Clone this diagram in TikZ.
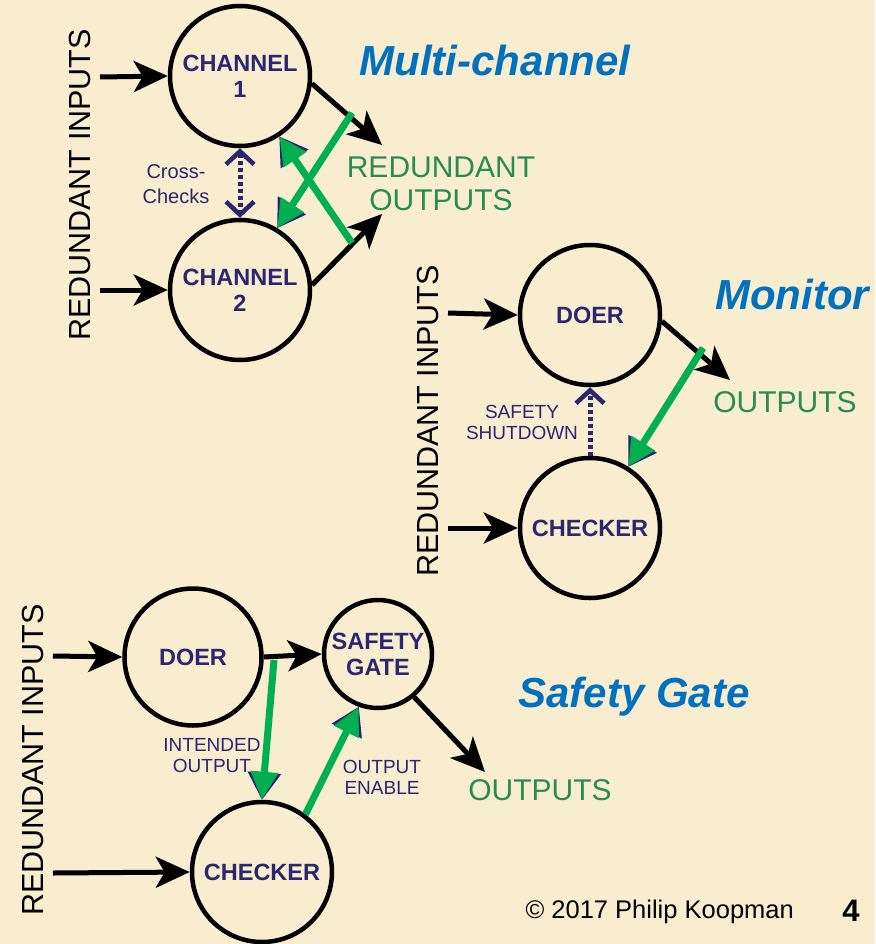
\documentclass[tikz,border=0pt]{standalone}
\usepackage{fontspec}
\setmainfont{Liberation Sans}
\usetikzlibrary{arrows.meta}

\definecolor{paper}{RGB}{249,237,208}
\definecolor{inkblue}{RGB}{42,38,112}
\definecolor{outgreen}{RGB}{40,140,80}
\definecolor{linkgreen}{RGB}{0,176,80}
\definecolor{titleblue}{RGB}{0,112,192}

\tikzset{
  unit/.style={circle, draw=black, line width=4.5pt, minimum size=140pt, inner sep=0pt,
    align=center, text=inkblue, font=\fontsize{23.5}{26}\selectfont\bfseries},
  flow/.style={line width=5pt, draw=black, -{Stealth[length=34pt,width=31pt,inset=9pt]}},
  barb/.tip={Straight Barb[length=13pt,width=28pt,line width=4.5pt]},
  check/.style={line width=5pt, draw=inkblue, dash pattern=on 4pt off 3pt, barb-barb},
  checkone/.style={line width=5pt, draw=inkblue, dash pattern=on 4pt off 3pt, -barb},
  shadowtip/.style={line width=3pt, draw=inkblue, fill=inkblue, -{Triangle[length=27pt,width=33pt]}},
  greenlink/.style={line width=7pt, draw=linkgreen, fill=linkgreen, -{Triangle[length=28pt,width=26pt]}},
  sidelabel/.style={rotate=90, font=\fontsize{30.5}{30}\selectfont, text=black},
  outlabel/.style={align=center, text=outgreen, font=\fontsize{30}{33}\selectfont},
  notelabel/.style={align=center, text=inkblue, font=\fontsize{19}{21}\selectfont},
  title/.style={text=titleblue, font=\fontsize{42}{42}\selectfont\bfseries\itshape},
}

\begin{document}
\begin{tikzpicture}[x=1pt, y=-1pt]
\fill[paper] (0,0) rectangle (875,944);
\useasboundingbox (0,0) rectangle (875,944);

% ---------- Multi-channel ----------
\node[unit] (ch1) at (240,76) {CHANNEL\\1};
\node[unit] (ch2) at (240,290) {CHANNEL\\2};
\coordinate (in1) at (100,77);
\coordinate (in2) at (100,290);
\coordinate (out1) at (382,145);
\coordinate (out2) at (382,214);
\coordinate (gA) at (352,113);
\coordinate (gB) at (352,243);
\node[sidelabel] (ri1) at (80,185) {REDUNDANT INPUTS};
\node[outlabel] (ro) at (441,184) {REDUNDANT\\OUTPUTS};
\node[notelabel, font=\fontsize{20}{25}\selectfont] (cc) at (176,184) {Cross-\\Checks};
\node[title] (t1) at (495,60) {Multi-channel};

\draw[flow] (in1) -- (ch1.west);
\draw[flow] (in2) -- (ch2.west);
\draw[flow] (ch1.-6) -- (out1);
\draw[flow] (ch2.4) -- (out2);
\draw[check] (ch1.south) -- (ch2.north);
\draw[shadowtip] (gA) -- (ch2.59);
\draw[shadowtip] (gB) -- (ch1.-57);
\draw[greenlink] (gA) -- (ch2.59);
\draw[greenlink] (gB) -- (ch1.-57);

% ---------- Monitor ----------
\node[unit] (doer) at (590,315) {DOER};
\node[unit] (chk) at (590,528) {CHECKER};
\coordinate (in3) at (448,313);
\coordinate (in4) at (448,528);
\coordinate (out3) at (730,380);
\coordinate (gC) at (703,348);
\node[sidelabel] (ri2) at (428,421) {REDUNDANT INPUTS};
\node[outlabel] (o2) at (785,402) {OUTPUTS};
\node[notelabel] (sd) at (522,422) {SAFETY\\SHUTDOWN};
\node[title] (t2) at (792,294) {Monitor};

\draw[flow] (in3) -- (doer.west);
\draw[flow] (in4) -- (chk.west);
\draw[flow] (doer.-5) -- (out3);
\draw[checkone] (chk.north) -- (doer.south);
\draw[shadowtip] (gC) -- (chk.58);
\draw[greenlink] (gC) -- (chk.58);

% ---------- Safety Gate ----------
\node[unit, minimum size=137pt] (doer2) at (193,657) {DOER};
\node[unit, minimum size=108pt] (gate) at (378,654) {SAFETY\\GATE};
\node[unit] (chk2) at (262,872) {CHECKER};
\coordinate (in5) at (53,656);
\coordinate (in6) at (53,873);
\coordinate (out4) at (485,772);
\coordinate (gD) at (274,660);
\node[sidelabel] (ri3) at (33,760) {REDUNDANT INPUTS};
\node[outlabel] (o3) at (540,790) {OUTPUTS};
\node[notelabel] (io) at (212,756) {INTENDED\\OUTPUT};
\node[notelabel] (oe) at (382,777) {OUTPUT\\ENABLE};
\node[title] (t3) at (634,697) {Safety Gate};

\draw[flow] (in5) -- (doer2.west);
\draw[flow] (in6) -- (chk2.west);
\draw[flow] (doer2.east) -- (gate.west);
\draw[flow] (gate.-50) -- (out4);
\draw[shadowtip] (gD) -- (chk2.90);
\draw[shadowtip] (chk2.53) -- (gate.-110);
\draw[greenlink] (gD) -- (chk2.90);
\draw[greenlink] (chk2.53) -- (gate.-110);

% ---------- footer ----------
\node[font=\fontsize{25.5}{25}\selectfont, anchor=west] (copy) at (522,912) {\textcopyright{} 2017 Philip Koopman};
\node[font=\fontsize{31}{31}\selectfont\bfseries] (pg) at (851,911) {4};
\end{tikzpicture}
\end{document}
